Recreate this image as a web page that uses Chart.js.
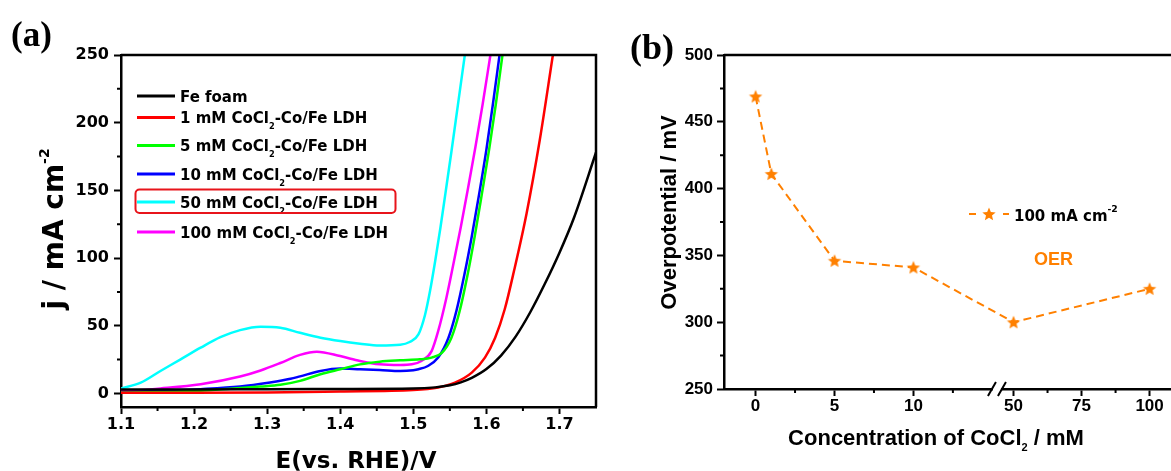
<!DOCTYPE html>
<html><head><meta charset="utf-8">
<script src="https://cdn.jsdelivr.net/npm/chart.js@4.4.1/dist/chart.umd.min.js"></script>
<style>
html,body{margin:0;padding:0;background:#fff;overflow:hidden;width:1171px;height:471px;position:relative;}
#ca{position:absolute;left:0;top:0;}
#cb{position:absolute;left:600px;top:0;}
</style></head><body>
<canvas id="ca" width="600" height="471"></canvas>
<canvas id="cb" width="610" height="471"></canvas>
<script>
// ================= Panel (a): LSV curves =================
const seriesLabels = ['Fe foam','1 mM CoCl₂-Co/Fe LDH','5 mM CoCl₂-Co/Fe LDH','10 mM CoCl₂-Co/Fe LDH','50 mM CoCl₂-Co/Fe LDH','100 mM CoCl₂-Co/Fe LDH'];
const seriesColors = ['#000000','#FF0000','#00FF00','#0000FF','#00FFFF','#FF00FF'];

const feFoamE = [1.10,1.20,1.30,1.40,1.50,1.53,1.55,1.565,1.58,1.60,1.62,1.64,1.66,1.68,1.70,1.72,1.75];
const feFoamJ = [3.0,3.0,3.2,3.3,3.6,4.5,6.0,8.2,11.5,18,28,42,60,81,104,130,178];

const oneMME = [1.10,1.20,1.30,1.40,1.50,1.534,1.557,1.58,1.598,1.612,1.625,1.638,1.655,1.673,1.691];
const oneMMJ = [0.5,0.5,0.8,1.5,2.5,4.4,8.0,15.4,26.5,41.2,62,91,133,187,250];

const fiveMME = [1.10,1.15,1.209,1.25,1.291,1.318,1.345,1.373,1.40,1.427,1.454,1.482,1.509,1.525,1.539,1.552,1.563,1.574,1.584,1.594,1.604,1.613,1.622];
const fiveMMJ = [0.5,1.0,2.0,3.5,5.1,6.4,9.3,14.2,17.9,21.5,23.5,24.5,25.2,26.5,30,41,60,87,116,148,181,214,250];

const tenMME = [1.10,1.154,1.209,1.263,1.304,1.332,1.345,1.373,1.40,1.427,1.454,1.482,1.50,1.507,1.52,1.534,1.548,1.559,1.570,1.580,1.590,1.60,1.609,1.618];
const tenMMJ = [0.7,2.0,3.2,5.1,8.1,10.8,12.6,16.6,18.4,17.9,17.4,16.6,17.2,17.9,20.3,26.5,41,61,88,116,147,180,214,250];

const fiftyMME = [1.10,1.127,1.154,1.181,1.209,1.236,1.263,1.291,1.318,1.345,1.373,1.40,1.427,1.454,1.482,1.495,1.507,1.516,1.523,1.530,1.537,1.544,1.552,1.561,1.5705];
const fiftyMMJ = [3.7,8,16.6,25,33.8,41.6,46.8,49.3,48.5,44.8,41.2,38.7,36.8,35.5,36,38,43.6,58,76,98,122,148,178,213,250];

const hundredMME = [1.10,1.154,1.209,1.263,1.291,1.318,1.345,1.368,1.40,1.427,1.454,1.482,1.498,1.511,1.525,1.534,1.545,1.555,1.565,1.575,1.585,1.595,1.6055];
const hundredMMJ = [1.5,3.7,6.8,12.5,17,22.5,28.5,30.9,27.6,24,21.5,21,21.5,24,31.3,46,70,96,123,152,182,214,250];

const xTicksA = [1.1,1.2,1.3,1.4,1.5,1.6,1.7];
const xMinorA = [1.15,1.25,1.35,1.45,1.55,1.65];
const yTicksA = [0,50,100,150,200,250];
const yMinorA = [25,75,125,175,225];

// ================= Panel (b): overpotential =================
const concentrations = [0,1,5,10,50,100];
const overpotentials = [469,411,346,341,300,325];
const xTicksB = [0,5,10,50,75,100];
const xMinorB = [2.5,7.5,12.5,62.5,87.5];
const yTicksB = [250,300,350,400,450,500];
const yMinorB = [275,325,375,425,475];
const legendB = '100 mA cm⁻²';

// broken x axis of panel (b): 0-~15 linear, then 50-100 compressed
const BREAK_AT = 15.29;
function brokenX(c){ return c <= 20 ? c : 16.34 + (c - 50) * 0.1724; }

const DJ = "'DejaVu Sans', sans-serif";
const AR = "'Liberation Sans', Arial, sans-serif";
const SERIF = "'Liberation Serif', 'Times New Roman', serif";
const ORANGE = '#FF8000';

function parseRich(str){
  const subs = {'₀':'0','₁':'1','₂':'2','₃':'3'};
  const sups = {'⁻':'-','²':'2','³':'3','¹':'1'};
  const parts = [];
  for (const ch of str){
    let k = 'n', t = ch;
    if (subs[ch] !== undefined){ k = 'sub'; t = subs[ch]; }
    else if (sups[ch] !== undefined){ k = 'sup'; t = sups[ch]; }
    const last = parts[parts.length-1];
    if (last && last.k === k) last.t += t; else parts.push({k, t});
  }
  return parts;
}
function drawRich(ctx, str, x, y, o){
  const parts = parseRich(str);
  const size = o.size, fam = o.family;
  const small = size * (o.ratio || 0.6);
  const fontOf = p => `bold ${p.k === 'n' ? size : small}px ${fam}`;
  let w = 0;
  for (const p of parts){ ctx.font = fontOf(p); w += ctx.measureText(p.t).width; }
  let cx = o.align === 'center' ? x - w/2 : (o.align === 'right' ? x - w : x);
  ctx.textAlign = 'left'; ctx.textBaseline = 'alphabetic'; ctx.fillStyle = o.color || '#000';
  for (const p of parts){
    ctx.font = fontOf(p);
    const dy = p.k === 'sub' ? size * (o.subDy || 0.3) : (p.k === 'sup' ? -size * (o.supDy || 0.45) : 0);
    ctx.fillText(p.t, cx, y + dy);
    cx += ctx.measureText(p.t).width;
  }
}
function pts(xs, ys){ return xs.map((x, i) => ({x, y: ys[i]})); }

function makeStar(r, color){
  const size = Math.ceil(r*2 + 2);
  const c = document.createElement('canvas'); c.width = c.height = size;
  const g = c.getContext('2d'); g.fillStyle = color; g.beginPath();
  for (let i = 0; i < 10; i++){
    const rad = i % 2 ? r*0.45 : r;
    const a = -Math.PI/2 + i*Math.PI/5;
    const px = size/2 + rad*Math.cos(a), py = size/2 + rad*Math.sin(a) + r*0.08;
    i ? g.lineTo(px, py) : g.moveTo(px, py);
  }
  g.closePath(); g.fill();
  return c;
}
const star = makeStar(7, ORANGE);

function minorTicks(ctx, scale, values, axis, len){
  const ca = scale.chart.chartArea;
  ctx.save(); ctx.strokeStyle = '#000'; ctx.lineWidth = 2; ctx.beginPath();
  for (const v of values){
    const p = scale.getPixelForValue(v);
    if (axis === 'x'){ ctx.moveTo(p, ca.bottom); ctx.lineTo(p, ca.bottom + len); }
    else { ctx.moveTo(ca.left, p); ctx.lineTo(ca.left - len, p); }
  }
  ctx.stroke(); ctx.restore();
}

// ---------- Chart A ----------
const datasetsA = [
  [feFoamE, feFoamJ], [oneMME, oneMMJ], [fiveMME, fiveMMJ],
  [tenMME, tenMMJ], [fiftyMME, fiftyMMJ], [hundredMME, hundredMMJ]
].map((s, i) => ({
  label: seriesLabels[i], data: pts(s[0], s[1]), borderColor: seriesColors[i],
  borderWidth: 2.5, pointRadius: 0, cubicInterpolationMode: 'monotone', fill: false
}));

const legendYA = [96, 117.5, 145.5, 174, 202, 232];

const panelAPlugin = {
  id: 'panelA',
  afterDraw(chart){
    const ctx = chart.ctx, ca = chart.chartArea;
    ctx.save();
    ctx.strokeStyle = '#000'; ctx.lineWidth = 2.5;
    ctx.beginPath(); ctx.moveTo(ca.left, ca.top); ctx.lineTo(ca.right, ca.top); ctx.lineTo(ca.right, ca.bottom); ctx.stroke();
    minorTicks(ctx, chart.scales.x, xMinorA, 'x', 4);
    minorTicks(ctx, chart.scales.y, yMinorA, 'y', 4);
    chart.data.datasets.forEach((ds, i) => {
      const y = legendYA[i];
      ctx.strokeStyle = ds.borderColor; ctx.lineWidth = 3;
      ctx.beginPath(); ctx.moveTo(137, y); ctx.lineTo(175, y); ctx.stroke();
      drawRich(ctx, ds.label, 180, y + 5.5, {size: 15, family: DJ, ratio: 0.55, subDy: 0.42});
    });
    ctx.strokeStyle = '#E8141B'; ctx.lineWidth = 2;
    ctx.beginPath(); ctx.roundRect(135.5, 189.5, 260, 23.5, 4); ctx.stroke();
    drawRich(ctx, 'E(vs. RHE)/V', 356, 468, {size: 23, family: DJ, align: 'center'});
    ctx.save(); ctx.translate(63, 229); ctx.rotate(-Math.PI/2);
    drawRich(ctx, 'j / mA cm⁻²', 0, 0, {size: 28, family: DJ, align: 'center', ratio: 0.5, supDy: 0.5});
    ctx.restore();
    ctx.fillStyle = '#000'; ctx.font = `bold 35px ${SERIF}`; ctx.textAlign = 'left'; ctx.textBaseline = 'alphabetic';
    ctx.fillText('(a)', 11, 46);
    ctx.restore();
  }
};

new Chart(document.getElementById('ca'), {
  type: 'line',
  data: {datasets: datasetsA},
  options: {
    responsive: false, animation: false, devicePixelRatio: 1,
    layout: {padding: {left: 0, top: 55, right: 4, bottom: 0}},
    plugins: {legend: {display: false}, tooltip: {enabled: false}},
    scales: {
      x: {
        type: 'linear', min: 1.1, max: 1.75,
        afterFit(s){ s.height = 64; },
        afterBuildTicks(s){ s.ticks = xTicksA.map(v => ({value: v})); },
        ticks: {font: {family: DJ, size: 16, weight: 'bold'}, color: '#000', padding: 1, maxRotation: 0, autoSkip: false, callback: v => v.toFixed(1)},
        grid: {display: true, drawOnChartArea: false, drawTicks: true, tickLength: 7, tickWidth: 2, tickColor: '#000'},
        border: {display: true, color: '#000', width: 2.5}
      },
      y: {
        type: 'linear', min: -10, max: 250,
        afterFit(s){ s.width = 121; },
        afterBuildTicks(s){ s.ticks = yTicksA.map(v => ({value: v})); },
        ticks: {font: {family: DJ, size: 16, weight: 'bold'}, color: '#000', padding: 5, autoSkip: false},
        grid: {display: true, drawOnChartArea: false, drawTicks: true, tickLength: 7, tickWidth: 2, tickColor: '#000'},
        border: {display: true, color: '#000', width: 2.5}
      }
    }
  },
  plugins: [panelAPlugin]
});

// ---------- Chart B ----------
const panelBPlugin = {
  id: 'panelB',
  afterDraw(chart){
    const ctx = chart.ctx, ca = chart.chartArea, xs = chart.scales.x;
    ctx.save();
    ctx.strokeStyle = '#000'; ctx.lineWidth = 2.5;
    ctx.beginPath(); ctx.moveTo(ca.left, ca.top); ctx.lineTo(ca.right, ca.top); ctx.stroke();
    minorTicks(ctx, xs, xMinorB.map(brokenX), 'x', 4);
    minorTicks(ctx, chart.scales.y, yMinorB, 'y', 4);
    const bx = xs.getPixelForValue(BREAK_AT), by = ca.bottom;
    ctx.fillStyle = '#fff'; ctx.fillRect(bx - 4, by - 3, 8, 6);
    ctx.strokeStyle = '#000'; ctx.lineWidth = 2;
    ctx.beginPath();
    ctx.moveTo(bx - 9, by + 7); ctx.lineTo(bx - 1, by - 7);
    ctx.moveTo(bx + 1, by + 7); ctx.lineTo(bx + 9, by - 7);
    ctx.stroke();
    ctx.strokeStyle = ORANGE; ctx.lineWidth = 2;
    ctx.beginPath(); ctx.moveTo(369, 214); ctx.lineTo(376, 214); ctx.moveTo(403, 214); ctx.lineTo(409, 214); ctx.stroke();
    ctx.drawImage(star, 389 - star.width/2, 214 - star.height/2);
    drawRich(ctx, legendB, 414, 220.5, {size: 15, family: DJ, ratio: 0.62, supDy: 0.6});
    ctx.fillStyle = ORANGE; ctx.font = `bold 18px ${AR}`; ctx.textAlign = 'left'; ctx.textBaseline = 'alphabetic';
    ctx.fillText('OER', 434, 265);
    drawRich(ctx, 'Concentration of CoCl₂ / mM', 336, 445, {size: 22, family: AR, align: 'center', ratio: 0.5, subDy: 0.25});
    ctx.save(); ctx.translate(76, 212.5); ctx.rotate(-Math.PI/2);
    drawRich(ctx, 'Overpotential / mV', 0, 0, {size: 22, family: AR, align: 'center'});
    ctx.restore();
    ctx.fillStyle = '#000'; ctx.font = `bold 36px ${SERIF}`; ctx.textAlign = 'left'; ctx.textBaseline = 'alphabetic';
    ctx.fillText('(b)', 30, 59);
    ctx.restore();
  }
};

new Chart(document.getElementById('cb'), {
  type: 'line',
  data: {datasets: [{
    label: legendB,
    data: concentrations.map((c, i) => ({x: brokenX(c), y: overpotentials[i]})),
    borderColor: ORANGE, borderWidth: 2, borderDash: [8, 5], tension: 0,
    pointStyle: star, pointRadius: 6, fill: false
  }]},
  options: {
    responsive: false, animation: false, devicePixelRatio: 1,
    layout: {padding: {left: 0, top: 55, right: 14, bottom: 0}},
    plugins: {legend: {display: false}, tooltip: {enabled: false}},
    scales: {
      x: {
        type: 'linear', min: -2, max: 27.9,
        afterFit(s){ s.height = 82; },
        afterBuildTicks(s){ s.ticks = xTicksB.map(v => ({value: brokenX(v)})); },
        ticks: {font: {family: AR, size: 17, weight: 'bold'}, color: '#000', padding: 0, maxRotation: 0, autoSkip: false,
                callback: (v, i) => String(xTicksB[i])},
        grid: {display: true, drawOnChartArea: false, drawTicks: true, tickLength: 7, tickWidth: 2, tickColor: '#000'},
        border: {display: true, color: '#000', width: 2.5}
      },
      y: {
        type: 'linear', min: 250, max: 500,
        afterFit(s){ s.width = 124; },
        afterBuildTicks(s){ s.ticks = yTicksB.map(v => ({value: v})); },
        ticks: {font: {family: AR, size: 17, weight: 'bold'}, color: '#000', padding: 4, autoSkip: false},
        grid: {display: true, drawOnChartArea: false, drawTicks: true, tickLength: 7, tickWidth: 2, tickColor: '#000'},
        border: {display: true, color: '#000', width: 2.5}
      }
    }
  },
  plugins: [panelBPlugin]
});
</script>
</body></html>
